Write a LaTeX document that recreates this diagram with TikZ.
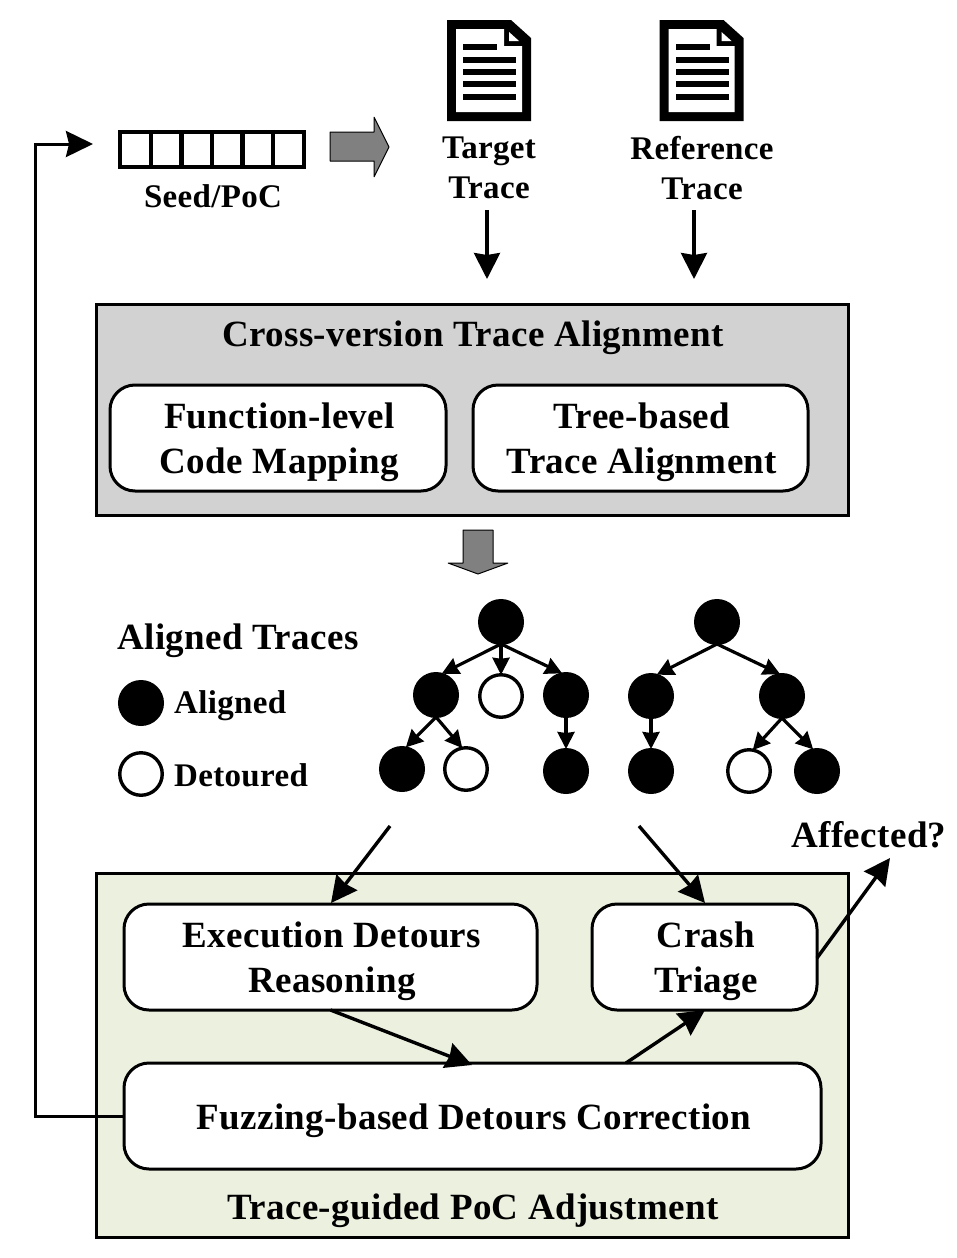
\documentclass[tikz,border=0pt]{standalone}
\usepackage{fontspec}
\setmainfont{Liberation Serif}
\usetikzlibrary{arrows.meta}
\newfontfamily\labelfont[LetterSpace=1]{Liberation Serif}[BoldFont={Liberation Serif Bold}]
\newcommand{\lowtext}[1]{\raisebox{-4pt}[\height][\depth]{\begin{tabular}{@{\hspace{3pt}}c@{}}#1\end{tabular}}}
\definecolor{panelgray}{HTML}{D2D2D2}
\definecolor{panelgreen}{HTML}{EBF0DF}
\tikzset{
  x=1pt,y=-1pt,
  wire/.style={line width=3.4pt,-{Stealth[length=26pt,width=26pt,inset=2pt]}},
  twig/.style={line width=3.2pt,-{Stealth[length=17pt,width=17pt,inset=1pt]}},
  loopwire/.style={line width=3pt,-{Stealth[length=27pt,width=26pt,inset=3pt]}},
  panel/.style={draw,line width=3pt,minimum width=752pt,inner sep=0pt,outer sep=0pt},
  innerbox/.style={draw,line width=3pt,fill=white,rounded corners=25pt,inner sep=0pt,outer sep=0pt},
  bigtext/.style={font=\fontsize{37}{45}\selectfont\labelfont\bfseries},
  midtext/.style={font=\fontsize{33}{40}\selectfont\labelfont\bfseries,align=center,inner sep=0pt},
  smalltext/.style={font=\fontsize{33}{36}\selectfont\labelfont\bfseries,inner sep=0pt},
  solidn/.style={circle,draw,fill=black,line width=2pt,minimum size=44pt,inner sep=0pt,outer sep=0pt},
  hollown/.style={circle,draw,fill=white,line width=3.4pt,minimum size=42.5pt,inner sep=0pt,outer sep=0pt},
  grayarrow/.style={draw,fill=black!50,line width=1pt,line join=bevel},
  seedcell/.style={draw,line width=4pt,minimum width=31pt,minimum height=35pt,inner sep=0pt,outer sep=0pt},
  docicon/.pic={
    \fill[black] (447,20) -- (511,20) -- (531,38) -- (531,121) -- (447,121) -- cycle;
    \fill[white] (456,29) -- (504,29) -- (504,46) -- (522,46) -- (522,112) -- (456,112) -- cycle;
    \fill[white] (509,32) -- (519,41) -- (509,41) -- cycle;
    \fill[black] (463,44) rectangle (497,50);
    \fill[black] (463,57) rectangle (516,63);
    \fill[black] (463,69) rectangle (516,75);
    \fill[black] (463,81) rectangle (516,87);
    \fill[black] (463,94) rectangle (516,100);
  }
}
\begin{document}
\begin{tikzpicture}
\useasboundingbox (0,0) rectangle (957,1258);
% document icons
\pic at (0,0) {docicon};
\pic at (212.5,0) {docicon};
% seed
\foreach \i in {0,...,5}{
  \node[seedcell,anchor=north west] (cell\i) at (120+\i*30.6,132) {};
}
\node[smalltext] (seed) at (213,196) {Seed/PoC};
\coordinate (seedin) at (93,144);
% gray arrows
\draw[grayarrow] (330,132) -- (374,132) -- (374,117) -- (389,147) -- (374,177) -- (374,161) -- (330,161) -- cycle;
\draw[grayarrow] (463,530) -- (493,530) -- (493,563) -- (508,563) -- (478,574) -- (448,563) -- (463,563) -- cycle;
% trace labels
\node[midtext] (target) at (489,168) {Target\\Trace};
\node[midtext] (reference) at (702,168) {Reference\\Trace};
\coordinate (targetend) at (487,279);
\coordinate (refend) at (694,279);
\coordinate (targetstart) at (487,210);
\coordinate (refstart) at (694,210);
\draw[wire] (targetstart) -- (targetend);
\draw[wire] (refstart) -- (refend);
% alignment panel
\node[panel,fill=panelgray,minimum height=211pt] (alignpanel) at (472,409.5) {};
\node[bigtext,inner sep=0pt] (aligntitle) at (473,338) {Cross-version Trace Alignment};
\node[innerbox,bigtext,minimum width=336pt,minimum height=106pt] (codemap) at (278,438) {\lowtext{Function-level\\Code Mapping}};
\node[innerbox,bigtext,minimum width=335pt,minimum height=106pt] (treealign) at (640.5,438) {\lowtext{Tree-based\\Trace Alignment}};
% legend
\node[bigtext,inner sep=0pt] (legendtitle) at (238,641) {Aligned Traces};
\node[solidn] (legsolid) at (141,703) {};
\node[hollown] (leghollow) at (141,774) {};
\node[smalltext,anchor=west] (legsolidtext) at (174,706) {Aligned};
\node[smalltext,anchor=west] (leghollowtext) at (174,775) {Detoured};
% left tree
\node[solidn] (a) at (501,622) {};
\node[solidn] (b1) at (436,695) {};
\node[hollown] (b2) at (501,696) {};
\node[solidn] (b3) at (566,695) {};
\node[solidn] (c1) at (402,769) {};
\node[hollown] (c2) at (466,769) {};
\node[solidn] (c3) at (566,771) {};
\draw[twig] (a.south) -- (b1.75);
\draw[twig] (a.south) -- (b2.north);
\draw[twig] (a.south) -- (b3.100);
\draw[twig] (b1.south) -- (c1.80);
\draw[twig] (b1.south) -- (c2.100);
\draw[twig] (b3.south) -- (c3.north);
% right tree
\node[solidn] (p) at (717,622) {};
\node[solidn] (q1) at (651,696) {};
\node[solidn] (q2) at (782,696) {};
\node[solidn] (r1) at (651,771) {};
\node[hollown] (r2) at (749,771) {};
\node[solidn] (r3) at (817,771) {};
\draw[twig] (p.south) -- (q1.75);
\draw[twig] (p.south) -- (q2.95);
\draw[twig] (q1.south) -- (r1.north);
\draw[twig] (q2.south) -- (r2.80);
\draw[twig] (q2.south) -- (r3.100);
% adjustment panel
\node[panel,fill=panelgreen,minimum height=364pt] (adjpanel) at (472,1055) {};
\node[innerbox,bigtext,minimum width=413pt,minimum height=106pt] (reason) at (330.5,957) {\lowtext{Execution Detours\\Reasoning}};
\node[innerbox,bigtext,minimum width=225pt,minimum height=106pt] (triage) at (704.5,957) {\lowtext{Crash\\Triage}};
\node[innerbox,bigtext,minimum width=697pt,minimum height=106pt] (correct) at (472.5,1116) {\lowtext{Fuzzing-based Detours Correction}};
\node[bigtext,inner sep=0pt] (adjtitle) at (473,1211) {Trace-guided PoC Adjustment};
\node[bigtext,inner sep=0pt] (affected) at (869,835) {Affected?};
% connectors
\coordinate (leftdrop) at (390,826);
\coordinate (rightdrop) at (639,826);
\coordinate (reasonin) at (331,903);
\coordinate (triagein) at (705,903);
\coordinate (correctin) at (472,1065);
\coordinate (correctout) at (626,1063);
\coordinate (triagebot) at (705,1010);
\coordinate (triageout) at (817,958);
\coordinate (affectin) at (890,858);
\draw[wire] (leftdrop) -- (reasonin);
\draw[wire] (rightdrop) -- (triagein);
\draw[wire] (reason.south) -- (correctin);
\draw[wire] (correctout) -- (triagebot);
\draw[wire] (triageout) -- (affectin);
\draw[loopwire] (correct.west) -| (35,144) -- (seedin);
\end{tikzpicture}
\end{document}
